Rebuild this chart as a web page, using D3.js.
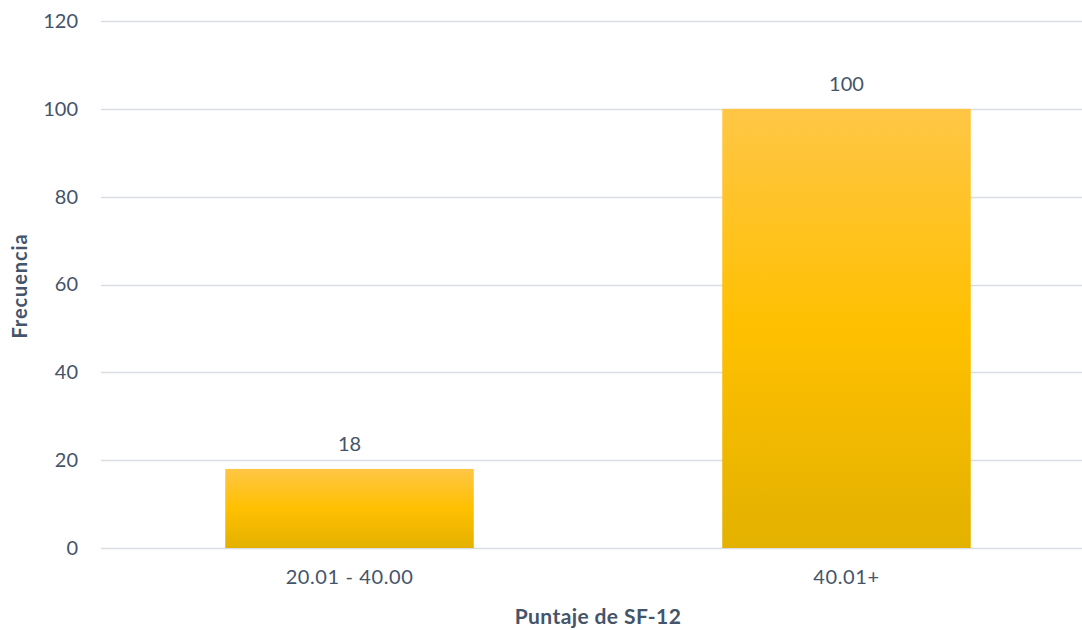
<!DOCTYPE html>
<html>
<head>
<meta charset="utf-8">
<script src="https://cdn.jsdelivr.net/npm/d3@7/dist/d3.min.js"></script>
<style>
  html, body { margin: 0; padding: 0; background: #fff; }
  svg { display: block; font-family: Lato, "Open Sans", sans-serif; }
</style>
</head>
<body>
<svg id="chart" width="1082" height="630"></svg>
<script>
// Frequency of SF-12 score ranges
const categories = ["20.01 - 40.00", "40.01+"];
const values = [18, 100];
const yTicks = [0, 20, 40, 60, 80, 100, 120];
const xTitle = "Puntaje de SF-12";
const yTitle = "Frecuencia";

const svg = d3.select("#chart");
const textColor = "#44546A";
const gridColor = "#D9DDE3";
const fontFamily = "Lato, 'Open Sans', sans-serif";

const plotLeft = 101, plotRight = 1095, plotTop = 21, plotBottom = 548;

const x = d3.scaleBand().domain(categories).range([plotLeft, plotRight]).paddingInner(0.5).paddingOuter(0.25);
const y = d3.scaleLinear().domain([0, 120]).range([plotBottom, plotTop]);

// Vertical gradient applied to each bar
const defs = svg.append("defs");
const grad = defs.append("linearGradient")
  .attr("id", "barFill").attr("x1", 0).attr("y1", 0).attr("x2", 0).attr("y2", 1);
grad.append("stop").attr("offset", "0%").attr("stop-color", "#FFC646");
grad.append("stop").attr("offset", "50%").attr("stop-color", "#FFC000");
grad.append("stop").attr("offset", "100%").attr("stop-color", "#E3B100");

// Gridlines
svg.append("g").selectAll("line").data(yTicks).join("line")
  .attr("x1", plotLeft).attr("x2", 1082)
  .attr("y1", d => Math.round(y(d)) + 0.5).attr("y2", d => Math.round(y(d)) + 0.5)
  .attr("stroke", gridColor).attr("stroke-width", 1.5);

// Y axis labels
const yAxis = d3.axisLeft(y).tickValues(yTicks).tickSize(0).tickPadding(0);
svg.append("g").attr("transform", `translate(78,0)`).call(yAxis)
  .call(g => g.select(".domain").remove())
  .call(g => g.selectAll("text").attr("fill", textColor).attr("font-size", 20)
    .attr("font-family", fontFamily));

// Bars
svg.append("g").selectAll("rect").data(values).join("rect")
  .attr("x", (d, i) => x(categories[i]))
  .attr("width", x.bandwidth())
  .attr("y", d => y(d))
  .attr("height", d => y(0) - y(d))
  .attr("fill", "url(#barFill)");

// Value labels
svg.append("g").selectAll("text").data(values).join("text")
  .attr("x", (d, i) => x(categories[i]) + x.bandwidth() / 2)
  .attr("y", d => y(d) - 18)
  .attr("text-anchor", "middle")
  .attr("fill", textColor).attr("font-size", 20)
  .text(d => d);

// X axis labels
const xAxis = d3.axisBottom(x).tickSize(0).tickPadding(0);
svg.append("g").attr("transform", `translate(0,${plotBottom + 22})`).call(xAxis)
  .call(g => g.select(".domain").remove())
  .call(g => g.selectAll("text").attr("fill", textColor).attr("font-size", 20)
    .attr("letter-spacing", 0.6)
    .attr("font-family", fontFamily).attr("dy", "0.71em"));

// Axis titles
svg.append("text")
  .attr("x", 598).attr("y", 624)
  .attr("text-anchor", "middle")
  .attr("fill", textColor).attr("font-size", 21).attr("font-weight", "bold")
  .attr("letter-spacing", 0.4)
  .text(xTitle);

svg.append("text")
  .attr("transform", "translate(27,286) rotate(-90)")
  .attr("text-anchor", "middle")
  .attr("fill", textColor).attr("font-size", 20).attr("font-weight", "bold")
  .attr("letter-spacing", 0.9)
  .text(yTitle);
</script>
</body>
</html>
